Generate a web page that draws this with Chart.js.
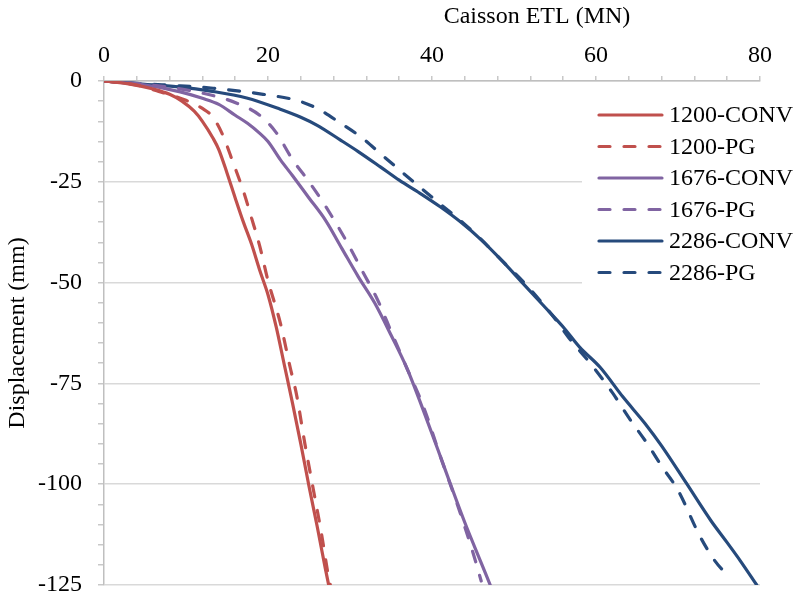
<!DOCTYPE html>
<html>
<head>
<meta charset="utf-8">
<script src="https://cdn.jsdelivr.net/npm/chart.js@4"></script>
<style>
body{margin:0;background:#fff}
#wrap{width:801px;height:596px;position:relative}
</style>
</head>
<body>
<div id="wrap"><canvas id="chart"></canvas></div>
<script>
// Caisson ETL (MN) vs displacement (mm)
let conv1200X = [0,3,6,8,9.5,11,12,13.3,14,15,16,17,18,19,20,21,22,23,24,25,26,27,27.4]
let conv1200Y = [0,-0.7,-2,-3.3,-5,-7.5,-10,-14.2,-17,-22.8,-29,-35,-40.5,-47,-53,-61,-70.5,-80,-90,-100.5,-110.5,-121,-125]

let pg1200X = [0,4,7,10,12,13.3,14.5,15.7,17,18,19,20,21.5,22.7,23.5,24.5,25.5,26.5,27.3,27.6]
let pg1200Y = [0,-1,-2.8,-4.8,-6.8,-9,-13.5,-20,-27.3,-34,-41,-49.5,-60,-71,-78,-90,-101,-112,-122,-125]

let conv1676X = [0,5,9.3,12,14,16,17.5,19,20,21.5,23,25,27,29,31,33,35,37,39,41,42.2,44,46,47.1]
let conv1676Y = [0,-1,-2.7,-4.3,-5.8,-8.5,-10.5,-13,-15,-19.5,-23.5,-29,-34.5,-41.5,-48.5,-55,-63,-71.5,-82,-93,-99.7,-109.5,-119.5,-125]

let pg1676X = [0,5,10,14,16.2,19,21,23,25,27,29.5,31.6,33.3,35.2,37,39,41,43,45,46]
let pg1676Y = [0,-0.8,-2.2,-4,-5.5,-8.5,-12.8,-19.5,-25,-31,-39.5,-47.5,-54,-63,-71.5,-81,-93,-104.5,-117,-124]

let conv2286X = [0,5,9.3,13,17.4,21.5,24,26,28.8,31,33.7,36,38.5,41,43.5,46,48.5,51,53.5,56,58,60.5,63.3,66,68,71,74,76,77.6,79.6]
let conv2286Y = [0,-0.8,-1.5,-2.5,-4.2,-7,-9,-11,-14.6,-17.5,-21.3,-24.6,-27.8,-31.2,-35,-39.4,-44.5,-50,-55.5,-61,-66,-71,-78.4,-85,-90.5,-99.7,-109,-114.5,-119,-125]

let pg2286X = [0,5,9.3,13.3,19.4,23.5,26,28.8,31.6,33.7,36,38.5,41,43.8,46,48.5,51,53.2,55,56.8,59.3,62,64,66.2,68,70,72.7,74.5,76]
let pg2286Y = [0,-0.7,-1.2,-1.8,-3.3,-4.8,-6.8,-10.4,-14.3,-18,-22,-26.3,-30.5,-35.2,-39.3,-44.5,-49.5,-54.5,-59,-64,-70,-77.3,-83.5,-89.8,-95.5,-101.5,-113,-119,-122.5]

let seriesNames = ["1200-CONV","1200-PG","1676-CONV","1676-PG","2286-CONV","2286-PG"]
let xTicks = [0,20,40,60,80]
let yTicks = [0,-25,-50,-75,-100,-125]

let red = "#C0504D"
let purple = "#8064A2"
let navy = "#264A7C"
let FONT = "'Liberation Serif', 'Times New Roman', serif"

function pts(xs, ys){
return xs.map((x,i)=>({x:x, y:ys[i]}))
}

function ds(name, xs, ys, color, dashed){
return {
label:name,
data:pts(xs,ys),
borderColor:color,
backgroundColor:color,
borderWidth:3.2,
borderDash:dashed ? [11,14] : [],
borderCapStyle:"round",
borderJoinStyle:"round",
pointRadius:0,
showLine:true,
cubicInterpolationMode:"monotone",
fill:false
}
}

// legend and axis titles drawn on top
let overlay = {
id:"overlay",
afterDraw(chart){
let ctx = chart.ctx
ctx.save()
ctx.fillStyle = "#fff"
ctx.fillRect(582,98,219,190)
ctx.font = "24px " + FONT
ctx.textBaseline = "middle"
chart.data.datasets.forEach((d,i)=>{
let y = 115 + i*31.5
ctx.beginPath()
ctx.strokeStyle = d.borderColor
ctx.lineWidth = 3.2
ctx.lineCap = "round"
ctx.setLineDash(d.borderDash)
ctx.moveTo(599,y)
ctx.lineTo(662,y)
ctx.stroke()
ctx.setLineDash([])
ctx.fillStyle = "#000"
ctx.textAlign = "left"
ctx.fillText(d.label,669,y+1)
})
ctx.fillStyle = "#000"
ctx.textAlign = "center"
ctx.fillText("Caisson ETL (MN)",537,17)
ctx.translate(18,333)
ctx.rotate(-Math.PI/2)
ctx.fillText("Displacement (mm)",0,0)
ctx.restore()
}
}

new Chart(document.getElementById("chart"),{
type:"scatter",
data:{
datasets:[
ds(seriesNames[0],conv1200X,conv1200Y,red,false),
ds(seriesNames[1],pg1200X,pg1200Y,red,true),
ds(seriesNames[2],conv1676X,conv1676Y,purple,false),
ds(seriesNames[3],pg1676X,pg1676Y,purple,true),
ds(seriesNames[4],conv2286X,conv2286Y,navy,false),
ds(seriesNames[5],pg2286X,pg2286Y,navy,true)
]
},
options:{
responsive:true,
maintainAspectRatio:false,
animation:false,
layout:{padding:{top:0,left:0,right:41,bottom:11}},
plugins:{legend:{display:false},tooltip:{enabled:false}},
scales:{
x:{
type:"linear",
position:"top",
min:0,
max:80,
afterFit(scale){ scale.height = 81; scale.paddingLeft = 0; scale.paddingRight = 0 },
border:{color:"#BFBFBF",width:1.5},
grid:{drawOnChartArea:false,tickColor:"#C8C8C8",tickLength:5,lineWidth:1.5},
ticks:{
stepSize:4,
autoSkip:false,
maxRotation:0,
padding:6,
color:"#000",
font:{family:FONT,size:24},
callback:v=>xTicks.includes(v) ? String(v) : ""
}
},
y:{
type:"linear",
min:-125,
max:0,
afterFit(scale){ scale.width = 104; scale.paddingTop = 0; scale.paddingBottom = 0 },
border:{color:"#BFBFBF",width:1.5},
grid:{
color:c=>yTicks.includes(c.tick.value) ? "#D9D9D9" : "rgba(0,0,0,0)",
tickColor:"#C8C8C8",
tickLength:6,
lineWidth:1.5
},
ticks:{
stepSize:5,
autoSkip:false,
padding:16,
color:"#000",
font:{family:FONT,size:24},
callback:v=>yTicks.includes(v) ? String(v) : ""
}
}
}
},
plugins:[overlay]
})
</script>
</body>
</html>
